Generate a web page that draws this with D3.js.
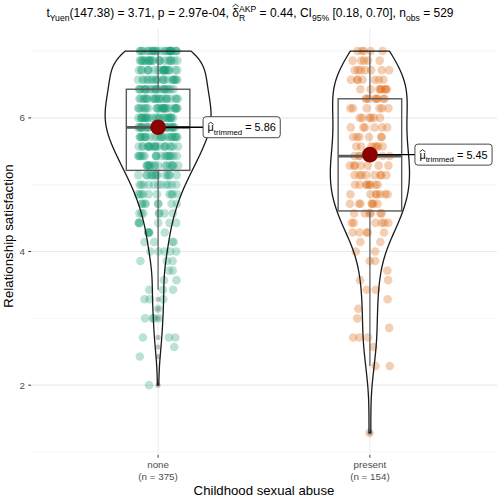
<!DOCTYPE html>
<html><head><meta charset="utf-8">
<script src="https://cdn.jsdelivr.net/npm/d3@7"></script>
<style>
body{margin:0;background:#fff}
svg{display:block;font-family:"Liberation Sans",Arial,sans-serif}
text{white-space:pre}
</style>
</head><body>
<svg id="c" width="500" height="498"></svg>
<script>
// ---------------- data ----------------
const categories = ["none", "present"];
const nLabels = ["(n = 375)", "(n = 154)"];
const colors = ["#1B9E77", "#D95F02"];
// response levels k/7, k = 9..49
const levelK = d3.range(9, 50);
const countsNone    = [0,0,0,0,0,1,0,0,1,1,3,0,4,1,3,3,2,2,3,5,4,5,6,7,8,10,11,14,16,18,20,22,24,24,24,22,22,20,20,22,27];
const countsPresent = [1,0,0,0,0,0,0,2,0,1,3,1,1,1,1,2,2,1,2,2,2,5,6,6,7,7,8,8,7,7,7,6,6,6,6,8,8,7,7,5,5];
const trimmedMeans = [5.86, 5.45];
const meanLabels = ["5.86", "5.45"];
const yTicks = [2, 4, 6];
const yMinor = [1, 3, 5, 7];
const xTitle = "Childhood sexual abuse";
const yTitle = "Relationship satisfaction";

// ---------------- layout ----------------
const svg = d3.select("#c");
const W = 500, H = 498;
const x = d3.scalePoint().domain(categories).range([31, 497]).padding(0.6);
const y = d3.scaleLinear().domain([0.955, 7.33]).range([455, 29]);
const step = x.step();
const FONT_AX = "#4D4D4D";

// grid
const grid = svg.append("g");
yMinor.forEach(v => grid.append("line").attr("x1", 31).attr("x2", 497).attr("y1", y(v)).attr("y2", y(v))
  .attr("stroke", "#F2F2F2").attr("stroke-width", 0.7));
yTicks.forEach(v => grid.append("line").attr("x1", 31).attr("x2", 497).attr("y1", y(v)).attr("y2", y(v))
  .attr("stroke", "#EBEBEB").attr("stroke-width", 1.1));
categories.forEach(c => grid.append("line").attr("x1", x(c)).attr("x2", x(c)).attr("y1", 29).attr("y2", 455)
  .attr("stroke", "#EBEBEB").attr("stroke-width", 1.1));

// deterministic jitter offset in [-1, 1]
function hashOff(a, b, c) {
  const s = Math.sin(a * 12.9898 + b * 78.233 + c * 37.719) * 43758.5453;
  return (s - Math.floor(s)) * 2 - 1;
}

// build group data from counts
const counts = [countsNone, countsPresent];
const groups = categories.map((c, gi) => {
  const vals = [];
  const pts = [];
  counts[gi].forEach((n, li) => {
    const v = levelK[li] / 7;
    for (let j = 0; j < n; j++) {
      vals.push(v);
      pts.push({v, off: hashOff(j + 1, li + 1, gi + 1)});
    }
  });
  vals.sort(d3.ascending);
  return {c, gi, vals, pts};
});

// KDE
function kde(vals) {
  const n = vals.length;
  const sd = d3.deviation(vals);
  const iqr = d3.quantileSorted(vals, 0.75) - d3.quantileSorted(vals, 0.25);
  const bw = 0.9 * Math.min(sd, iqr / 1.34) * Math.pow(n, -0.2);
  const lo = vals[0], hi = vals[n - 1];
  const grid = d3.range(0, 512).map(i => lo + (hi - lo) * i / 511);
  return grid.map(t => {
    let s = 0;
    for (const v of vals) { const z = (t - v) / bw; s += Math.exp(-0.5 * z * z); }
    return {t, d: s / (n * bw * Math.sqrt(2 * Math.PI))};
  });
}
groups.forEach(g => g.dens = kde(g.vals));
const maxD = d3.max(groups, g => d3.max(g.dens, d => d.d));
const halfViolin = step * 0.25;

// points
const jitterPx = step * 0.095;
groups.forEach(g => {
  svg.append("g").selectAll("circle").data(g.pts).join("circle")
    .attr("cx", d => x(g.c) + d.off * jitterPx)
    .attr("cy", d => y(d.v))
    .attr("r", 4.3)
    .attr("fill", colors[g.gi])
    .attr("fill-opacity", 0.3);
});

// boxplots
const boxHalf = step * 0.15;
groups.forEach(g => {
  const v = g.vals;
  const q1 = d3.quantileSorted(v, 0.25), med = d3.quantileSorted(v, 0.5), q3 = d3.quantileSorted(v, 0.75);
  const iqr = q3 - q1;
  const lo = d3.min(v.filter(d => d >= q1 - 1.5 * iqr));
  const hi = d3.max(v.filter(d => d <= q3 + 1.5 * iqr));
  const outs = v.filter(d => d < lo || d > hi);
  const cx = x(g.c);
  const bg = svg.append("g").attr("stroke", "#595959").attr("fill", "none");
  bg.append("line").attr("x1", cx).attr("x2", cx).attr("y1", y(q3)).attr("y2", y(hi)).attr("stroke-width", 1.2);
  bg.append("line").attr("x1", cx).attr("x2", cx).attr("y1", y(q1)).attr("y2", y(lo)).attr("stroke-width", 1.2);
  bg.append("rect").attr("x", cx - boxHalf).attr("width", boxHalf * 2).attr("y", y(q3)).attr("height", y(q1) - y(q3)).attr("stroke-width", 1.4);
  bg.append("line").attr("x1", cx - boxHalf).attr("x2", cx + boxHalf).attr("y1", y(med)).attr("y2", y(med)).attr("stroke-width", 2.8);
  svg.append("g").selectAll("circle").data(Array.from(new Set(outs))).join("circle")
    .attr("cx", cx).attr("cy", d => y(d)).attr("r", 2.6)
    .attr("fill", "#777").attr("fill-opacity", 0.45);
});

// violins
groups.forEach(g => {
  const cx = x(g.c);
  const pts = g.dens;
  const left = pts.map(d => [cx - d.d / maxD * halfViolin, y(d.t)]);
  const right = pts.map(d => [cx + d.d / maxD * halfViolin, y(d.t)]).reverse();
  svg.append("path").attr("d", d3.line()(left.concat(right)) + "Z")
    .attr("fill", "none").attr("stroke", "#1a1a1a").attr("stroke-width", 1.3);
});

// rich text helper
function rich(parent, pieces, size, fill) {
  const g = parent.append("g");
  let cx = 0;
  pieces.forEach(p => {
    if (p.stack) {
      const a = g.append("text").attr("x", cx).attr("y", -0.45 * size).attr("font-size", size * 0.72).attr("fill", fill).text(p.sup);
      const b = g.append("text").attr("x", cx).attr("y", 0.32 * size).attr("font-size", size * 0.72).attr("fill", fill).text(p.sub);
      cx += Math.max(a.node().getComputedTextLength(), b.node().getComputedTextLength());
    } else {
      const fs = p.sub ? size * 0.72 : size;
      const yy = p.sub ? 0.32 * size : 0;
      const t = g.append("text").attr("x", cx).attr("y", yy).attr("font-size", fs).attr("fill", fill).text(p.t);
      const w = t.node().getComputedTextLength();
      if (p.hat) {
        const h = p.hat;
        g.append("path").attr("d", `M${cx + 0.3},${-h * size} L${cx + w / 2},${-(h + 0.2) * size} L${cx + w - 0.3},${-h * size}`)
          .attr("fill", "none").attr("stroke", fill).attr("stroke-width", 0.8);
      }
      cx += w;
    }
  });
  return {g, width: cx};
}

// mean points + labels
groups.forEach(g => {
  const cx = x(g.c), cy = y(trimmedMeans[g.gi]);
  const bx = cx + 45;
  svg.append("line").attr("x1", cx).attr("x2", bx).attr("y1", cy).attr("y2", cy).attr("stroke", "#000").attr("stroke-width", 1.4);
  svg.append("circle").attr("cx", cx).attr("cy", cy).attr("r", 7.8).attr("fill", "#8B0000");
  const lg = svg.append("g");
  const rect = lg.append("rect").attr("fill", "#fff").attr("stroke", "#333").attr("stroke-width", 0.9).attr("rx", 3);
  const r = rich(lg, [{t: "μ", hat: 0.62}, {t: "trimmed", sub: true}, {t: " = " + meanLabels[g.gi]}], 10.9, "#000");
  r.g.attr("transform", `translate(${bx + 4.5},${cy + 4})`);
  rect.attr("x", bx).attr("y", cy - 10.5).attr("width", r.width + 9).attr("height", 21);
});

// title
const tt = rich(svg, [
  {t: "t"}, {t: "Yuen", sub: true}, {t: "(147.38) = 3.71, p = 2.97e-04, "},
  {t: "δ", hat: 0.86}, {stack: true, sup: "AKP", sub: "R"},
  {t: " = 0.44, CI"}, {t: "95%", sub: true}, {t: " [0.18, 0.70], n"}, {t: "obs", sub: true}, {t: " = 529"}
], 12.0, "#000");
tt.g.attr("transform", `translate(${(W - tt.width) / 2},${17})`);

// y axis
yTicks.forEach(v => {
  svg.append("line").attr("x1", 28.3).attr("x2", 31).attr("y1", y(v)).attr("y2", y(v)).attr("stroke", "#333").attr("stroke-width", 1);
  svg.append("text").attr("x", 25).attr("y", y(v) + 3.5).attr("text-anchor", "end").attr("font-size", 9.8).attr("fill", FONT_AX).text(v);
});
svg.append("text").attr("transform", `translate(13,${236}) rotate(-90)`).attr("text-anchor", "middle")
  .attr("font-size", 13.3).attr("fill", "#000").text(yTitle);

// x axis
categories.forEach((c, i) => {
  svg.append("line").attr("x1", x(c)).attr("x2", x(c)).attr("y1", 455).attr("y2", 457.7).attr("stroke", "#333").attr("stroke-width", 1);
  svg.append("text").attr("x", x(c)).attr("y", 468).attr("text-anchor", "middle").attr("font-size", 9.8).attr("fill", FONT_AX).text(c);
  svg.append("text").attr("x", x(c)).attr("y", 480).attr("text-anchor", "middle").attr("font-size", 9.8).attr("fill", FONT_AX).text(nLabels[i]);
});
svg.append("text").attr("x", (31 + 497) / 2).attr("y", 494.5).attr("text-anchor", "middle").attr("font-size", 13.2).attr("fill", "#000").text(xTitle);
</script>
</body></html>
